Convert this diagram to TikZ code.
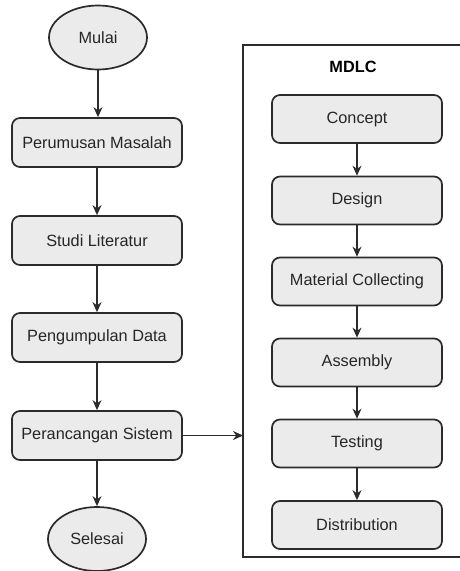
\documentclass[tikz,border=0pt]{standalone}
\usepackage{fontspec}
\setmainfont{Liberation Sans}
\usetikzlibrary{arrows.meta,shapes.geometric}
\definecolor{boxfill}{HTML}{EBEBEB}
\definecolor{linec}{HTML}{2B2B2B}
\tikzset{
  flowbox/.style={draw=linec, line width=1.7pt, fill=boxfill, rounded corners=8pt,
    minimum width=170pt, minimum height=49pt, inner sep=0pt, text=black!85, font=\fontsize{16.3}{18}\selectfont},
  term/.style={draw=linec, line width=1.7pt, fill=boxfill, ellipse,
    minimum width=98pt, minimum height=64pt, inner sep=0pt, text=black!85, font=\fontsize{16.3}{18}\selectfont},
  conn/.style={draw=linec, line width=1.5pt, -{Stealth[length=10pt,width=9pt]}},
}
\begin{document}
\begin{tikzpicture}[x=1pt,y=-1pt]
\useasboundingbox (0,0) rectangle (460,571);
\clip (0,0) rectangle (460,571);
\fill[white] (0,0) rectangle (460,571);
% container
\coordinate (ctl) at (243,45);
\coordinate (cbl) at (243,557);
\draw[linec, line width=1.7pt] (470,45) -- (ctl) -- (cbl) -- (470,557);
\node[font=\bfseries\fontsize{16.3}{18}\selectfont] (title) at (353,67) {MDLC};
% left column
\node[term] (mulai) at (98,37.5) {Mulai};
\node[flowbox] (p1) at (97,142.5) {Perumusan Masalah};
\node[flowbox] (p2) at (97,240.5) {Studi Literatur};
\node[flowbox] (p3) at (97,337.5) {Pengumpulan Data};
\node[flowbox] (p4) at (97,435.5) {Perancangan Sistem};
\node[term] (selesai) at (97,539) {Selesai};
% right column
\node[flowbox, minimum height=48pt] (m1) at (357,119) {Concept};
\node[flowbox, minimum height=48pt] (m2) at (357,200.5) {Design};
\node[flowbox, minimum height=48pt] (m3) at (357,281.5) {Material Collecting};
\node[flowbox, minimum height=48pt] (m4) at (357,362.5) {Assembly};
\node[flowbox, minimum height=48pt] (m5) at (357,443.5) {Testing};
\node[flowbox, minimum height=48pt] (m6) at (357,525) {Distribution};
\coordinate (cin) at (243,435.5);
% connectors
\draw[conn] (mulai.south) -- (mulai.south |- p1.north);
\draw[conn] (p1) -- (p2);
\draw[conn] (p2) -- (p3);
\draw[conn] (p3) -- (p4);
\draw[conn] (p4.south) -- (p4.south |- selesai.north);
\draw[conn] (p4.east) -- (cin);
\draw[conn] (m1) -- (m2);
\draw[conn] (m2) -- (m3);
\draw[conn] (m3) -- (m4);
\draw[conn] (m4) -- (m5);
\draw[conn] (m5) -- (m6);
\end{tikzpicture}
\end{document}
